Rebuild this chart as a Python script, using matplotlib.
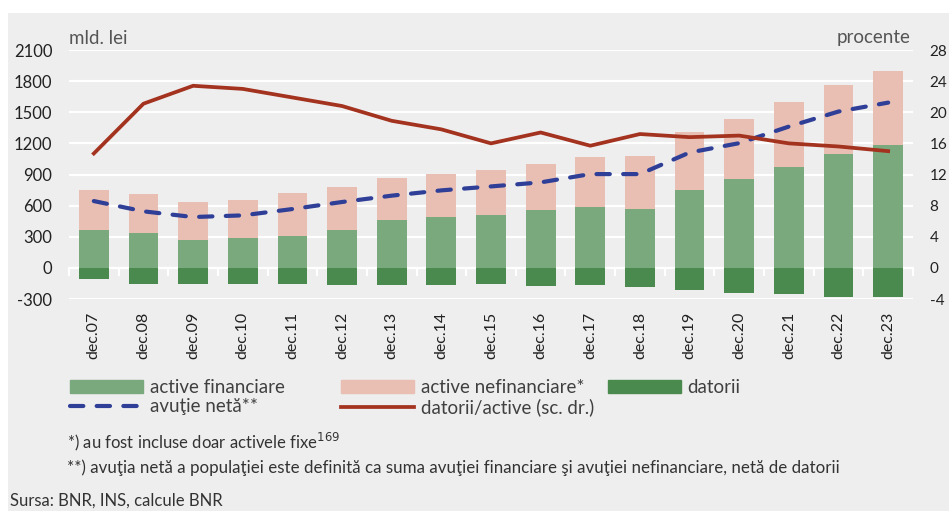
import numpy as np
import matplotlib
matplotlib.use("Agg")
from matplotlib import pyplot as plt
from matplotlib.patches import Rectangle, Patch
from matplotlib.lines import Line2D

# Avutia populatiei (mld. lei) si raportul datorii/active (procente)
years = ["dec.07", "dec.08", "dec.09", "dec.10", "dec.11", "dec.12", "dec.13",
         "dec.14", "dec.15", "dec.16", "dec.17", "dec.18", "dec.19", "dec.20",
         "dec.21", "dec.22", "dec.23"]
active_fin = [362, 333, 272, 285, 311, 369, 458, 490, 513, 558, 583, 564,
              753, 859, 968, 1093, 1186]
active_total = [753, 715, 638, 654, 721, 782, 869, 907, 943, 1003, 1071, 1080,
                1308, 1439, 1600, 1763, 1895]
active_nefin = [t - f for t, f in zip(active_total, active_fin)]
datorii = [-109, -151, -151, -151, -160, -163, -167, -167, -151, -176, -167,
           -186, -218, -240, -256, -276, -282]
avutie_neta = [644, 545, 490, 506, 567, 635, 696, 747, 785, 824, 904, 904,
               1112, 1202, 1362, 1507, 1593]
datorii_active = [14.7, 21.1, 23.4, 23.0, 21.9, 20.8, 18.9, 17.8, 16.0, 17.4,
                  15.7, 17.2, 16.8, 17.0, 16.0, 15.6, 15.0]

left_ticks = list(range(-300, 2101, 300))
right_ticks = list(range(-4, 29, 4))

c_fin = "#7aa97e"
c_nefin = "#e9bfb4"
c_dat = "#4b8a4e"
c_neta = "#2f3f97"
c_rap = "#a3321f"
c_bg = "#eeeeee"
c_txt = "#333333"

body = ["Lato", "DejaVu Sans"]

fig = plt.figure(figsize=(9.49, 5.11), dpi=100, facecolor="white")
fig.patches.append(Rectangle((8 / 949, 0), 1, (511 - 13) / 511,
                             transform=fig.transFigure, facecolor=c_bg,
                             edgecolor="none", zorder=-10))

ax = fig.add_axes([69 / 949, 1 - 299 / 511, (913 - 69) / 949, (299 - 50) / 511])
ax.set_facecolor("none")
x = np.arange(len(years))
w = 0.6

ax.bar(x, active_fin, w, color=c_fin, zorder=2)
ax.bar(x, active_nefin, w, bottom=active_fin, color=c_nefin, zorder=2)
ax.bar(x, datorii, w, color=c_dat, zorder=2)
ax.plot(x, avutie_neta, color=c_neta, lw=3.0, dashes=(3.2, 3.2),
        dash_capstyle="round", zorder=4)

ax.set_xlim(-0.5, len(years) - 0.5)
ax.set_ylim(-300, 2100)
ax.set_yticks(left_ticks)
ax.set_yticklabels([str(v) for v in left_ticks], family=body, fontsize=12,
                   color="#222222")
ax.tick_params(axis="y", length=0, pad=12)
ax.grid(axis="y", color="white", lw=1.6, zorder=1)
ax.set_axisbelow(True)

for s in ["top", "right", "left"]:
    ax.spines[s].set_visible(False)
ax.spines["bottom"].set_position(("data", 0))
ax.spines["bottom"].set_color("white")
ax.spines["bottom"].set_linewidth(1.6)
ax.spines["bottom"].set_zorder(1)
ax.set_xticks([])
ax.set_xticks(np.arange(len(years) + 1) - 0.5, minor=True)
ax.tick_params(axis="x", which="minor", length=6, width=1.6, color="white",
               direction="out")

# category labels below the plot, independent of the zero line
sec = ax.secondary_xaxis(0.0)
sec.set_xticks(x)
sec.set_xticklabels(years, rotation=90, family=body, fontsize=11.5,
                    color="#222222")
sec.tick_params(length=0, pad=9)
sec.spines["bottom"].set_visible(False)

ax2 = ax.twinx()
ax2.plot(x, datorii_active, color=c_rap, lw=2.7, zorder=5)
ax2.set_ylim(-4, 28)
ax2.set_yticks(right_ticks)
ax2.set_yticklabels([str(v) for v in right_ticks], family=body, fontsize=11,
                    color="#222222")
ax2.tick_params(axis="y", length=0, pad=12)
for s in ax2.spines.values():
    s.set_visible(False)

fig.text(69 / 949, 1 - 38 / 511, "mld. lei", family=body, fontsize=13.5,
         color="#555555", va="center", ha="left")
fig.text(911 / 949, 1 - 38 / 511, "procente", family=body, fontsize=13.5,
         color="#555555", va="center", ha="right")

# legend, one column at a time so the columns line up with fixed offsets
dash_handle = Line2D([], [], color=c_neta, lw=3.0, dashes=(3.2, 3.2),
                     dash_capstyle="round")
columns = [
    (70, [Patch(color=c_fin), dash_handle], ["active financiare", "avuţie netă**"]),
    (341, [Patch(color=c_nefin), Line2D([], [], color=c_rap, lw=2.7)],
     ["active nefinanciare*", "datorii/active (sc. dr.)"]),
    (608, [Patch(color=c_dat)], ["datorii"]),
]
for xpos, hs, ls in columns:
    leg = fig.legend(hs, ls, loc="upper left",
                     bbox_to_anchor=(xpos / 949, 1 - 379 / 511),
                     frameon=False, prop={"family": body, "size": 13.5},
                     handlelength=3.9, handleheight=0.65, handletextpad=0.35,
                     labelspacing=0.12, borderaxespad=0, borderpad=0)
    for t in leg.get_texts():
        t.set_color("#404040")

fig.text(67 / 949, 1 - 442 / 511, "*) au fost incluse doar activele fixe$^{169}$",
         family=body, fontsize=12, color=c_txt, va="center")
fig.text(67 / 949, 1 - 468 / 511,
         "**) avuţia netă a populaţiei este definită ca suma avuţiei financiare "
         "şi avuţiei nefinanciare, netă de datorii",
         family=body, fontsize=12.2, color=c_txt, va="center")
fig.text(10 / 949, 1 - 501 / 511, "Sursa: BNR, INS, calcule BNR",
         family=body, fontsize=12, color=c_txt, va="center")

fig.savefig("out.png", dpi=100)
